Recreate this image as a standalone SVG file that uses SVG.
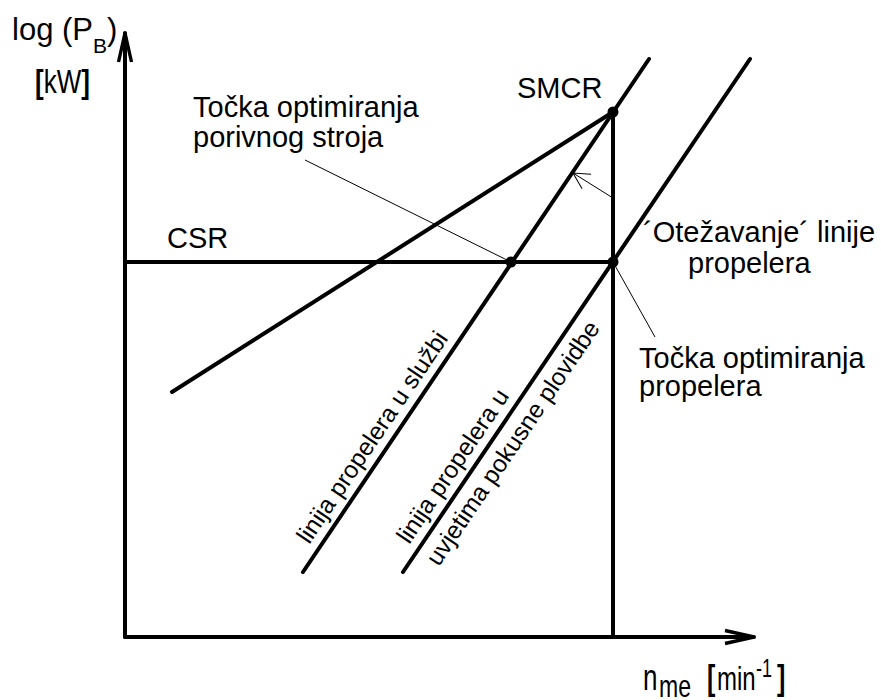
<svg xmlns="http://www.w3.org/2000/svg" width="881" height="700" viewBox="0 0 881 700">
<style>
  svg { font-family: "Liberation Sans", Arial, sans-serif; font-size: 29px; }
  text { fill: #000; }
  .rot { font-size: 24.5px; }
  .thick { stroke: #000; stroke-width: 4; fill: none; stroke-linecap: round; }
  .thin { stroke: #000; stroke-width: 1; fill: none; }
  .dot { fill: #000; }
  .br { font-weight: bold; }
</style>
<defs>
  <marker id="axisArrow" markerUnits="userSpaceOnUse" markerWidth="34" markerHeight="20" refX="30" refY="10" orient="auto" overflow="visible">
    <path d="M1,3.5 L30,10 L1,16.5" fill="none" stroke="#000" stroke-width="3.4" stroke-linejoin="miter"/>
  </marker>
  <marker id="thinArrow" markerUnits="userSpaceOnUse" markerWidth="20" markerHeight="20" refX="16" refY="9" orient="auto" overflow="visible">
    <path d="M0,0.5 L16,9 L0,17.5" fill="none" stroke="#000" stroke-width="1"/>
  </marker>
</defs>
<rect width="881" height="700" fill="#fff"/>

<g id="connectors">
  <line class="thick" x1="125" y1="637" x2="125" y2="33" marker-end="url(#axisArrow)"/>
  <line class="thick" x1="125" y1="637" x2="754" y2="637" marker-end="url(#axisArrow)"/>
  <line class="thick" x1="125" y1="262" x2="613" y2="262"/>
  <line class="thick" x1="613" y1="112" x2="613" y2="637"/>
  <line class="thick" x1="613" y1="112" x2="172" y2="392"/>
  <line class="thick" x1="303" y1="572" x2="649" y2="59"/>
  <line class="thick" x1="403" y1="572" x2="750" y2="59"/>
  <line class="thin" x1="305" y1="160" x2="511" y2="262"/>
  <line class="thin" x1="655" y1="337" x2="613" y2="262"/>
  <line class="thin" x1="613" y1="198" x2="573" y2="173" marker-end="url(#thinArrow)"/>
</g>

<g id="point-smcr"><circle class="dot" cx="613" cy="112" r="5.5"/></g>
<g id="point-engine-opt"><circle class="dot" cx="511" cy="262" r="5.5"/></g>
<g id="point-prop-opt"><circle class="dot" cx="613" cy="262" r="5.5"/></g>

<g id="label-y-axis">
  <text x="12" y="40" font-size="31">log (P<tspan font-size="21" dy="13">B</tspan><tspan dy="-13">)</tspan></text>
  <text transform="translate(35,93) scale(1,1.3)" font-size="26"><tspan class="br">[</tspan>kW<tspan class="br">]</tspan></text>
</g>
<g id="label-x-axis" transform="translate(0,690) scale(1,1.4)">
  <text x="643" y="0" font-size="26">n</text>
  <text x="659" y="5" font-size="23">me</text>
  <text x="707" y="0" font-size="25" class="br">[</text>
  <text x="717" y="0" font-size="24">min</text>
  <text x="756" y="-9" font-size="18">-1</text>
  <text x="777" y="0" font-size="25" class="br">]</text>
</g>
<g id="label-smcr"><text x="517" y="98">SMCR</text></g>
<g id="label-csr"><text x="167" y="248">CSR</text></g>
<g id="label-engine-opt">
  <text x="193" y="117">Točka optimiranja</text>
  <text x="193" y="147">porivnog stroja</text>
</g>
<g id="label-loading">
  <text x="643" y="242">´Otežavanje´ linije</text>
  <text x="688" y="273">propelera</text>
</g>
<g id="label-prop-opt">
  <text x="639" y="368">Točka optimiranja</text>
  <text x="639" y="396">propelera</text>
</g>
<g id="label-service-line">
  <text class="rot" transform="translate(309.2,544.9) rotate(-55.9)">linija propelera u službi</text>
</g>
<g id="label-trial-line">
  <text class="rot" transform="translate(409.2,544.9) rotate(-55.9)">linija propelera u</text>
  <text class="rot" transform="translate(438.8,567.2) rotate(-55.9)">uvjetima pokusne plovidbe</text>
</g>
</svg>
